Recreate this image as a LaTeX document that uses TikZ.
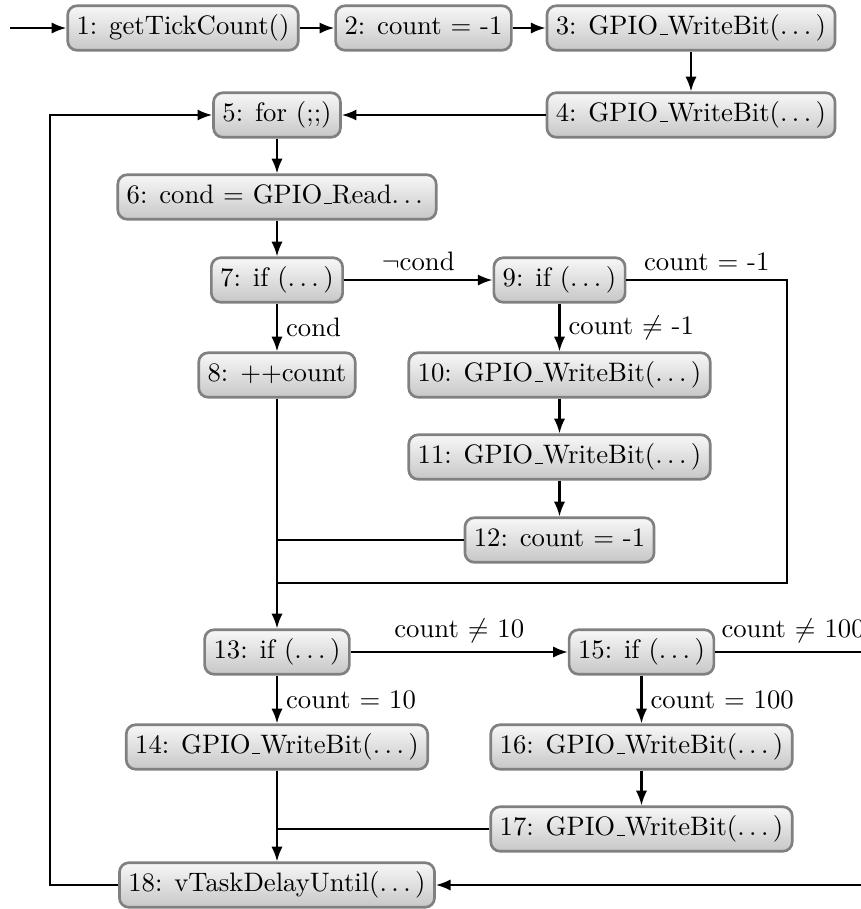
\documentclass[tikz,border=0pt]{standalone}
\usetikzlibrary{arrows.meta}
\newcommand{\mydots}{.\kern1.67pt.\kern1.67pt.\kern1.67pt}
\newcommand{\myus}{\leavevmode\kern.06em\vbox{\hrule width.3em}}
\begin{document}
\begin{tikzpicture}[x=0.3745pt,y=-0.3745pt,
  blk/.style={draw=black!50, line width=1pt, rounded corners=3.5pt,
    top color=black!3, bottom color=black!22, inner sep=3.33pt,
    text height=7.5pt, text depth=2.5pt},
  conn/.style={line width=0.8pt, draw=black},
  arr/.style={conn, -{Latex[length=5.5pt,width=4.2pt]}},
  lbl/.style={inner sep=3pt}]
\useasboundingbox (0,0) rectangle (861,909);
\clip (0,0) rectangle (861,909);

% nodes
\node[blk] (n1)  at (183,28)   {1: getTickCount()};
\node[blk] (n2)  at (423.5,28) {2: count $=$ -1};
\node[blk] (n3)  at (691,28)   {3: GPIO\myus WriteBit(\mydots)};
\node[blk] (n4)  at (691,115)  {4: GPIO\myus WriteBit(\mydots)};
\node[blk] (n5)  at (277,115)  {5: for (;;)};
\node[blk] (n6)  at (277,197)  {6: cond $=$ GPIO\myus Read\mydots};
\node[blk] (n7)  at (277,280)  {7: if (\mydots)};
\node[blk] (n8)  at (277,375)  {8: ++count};
\node[blk] (n9)  at (559.5,280) {9: if (\mydots)};
\node[blk] (n10) at (559.5,375) {10: GPIO\myus WriteBit(\mydots)};
\node[blk] (n11) at (559.5,457) {11: GPIO\myus WriteBit(\mydots)};
\node[blk] (n12) at (559.5,540) {12: count $=$ -1};
\node[blk] (n13) at (277,652)  {13: if (\mydots)};
\node[blk] (n14) at (277,747)  {14: GPIO\myus WriteBit(\mydots)};
\node[blk] (n15) at (641.5,652) {15: if (\mydots)};
\node[blk] (n16) at (641.5,747) {16: GPIO\myus WriteBit(\mydots)};
\node[blk] (n17) at (641.5,829) {17: GPIO\myus WriteBit(\mydots)};
\node[blk] (n18) at (277,885)  {18: vTaskDelayUntil(\mydots)};

% helper coordinates
\coordinate (start) at (10,28);
\coordinate (r9a) at (787,280);
\coordinate (r9b) at (787,583);
\coordinate (r15a) at (871,652);
\coordinate (r15b) at (871,885);
\coordinate (l18a) at (50,885);
\coordinate (l18b) at (50,115);

% connectors
\draw[arr] (start) -- (n1);
\draw[arr] (n1) -- (n2);
\draw[arr] (n2) -- (n3);
\draw[arr] (n3) -- (n4);
\draw[arr] (n4) -- (n5);
\draw[arr] (n5) -- (n6);
\draw[arr] (n6) -- (n7);
\draw[arr] (n7) -- node[lbl,above] {$\neg$cond} (n9);
\draw[arr] (n7) -- node[lbl,right] {cond} (n8);
\draw[arr] (n9) -- node[lbl,right] {count $\neq$ -1} (n10);
\draw[arr] (n10) -- (n11);
\draw[arr] (n11) -- (n12);
\draw[conn] (n9.east) -- node[lbl,above] {count $=$ -1} (r9a) -- (r9b) -- (r9b -| n8.south);
\draw[conn] (n12.west) -- (n12.west -| n8.south);
\draw[arr] (n8) -- (n13);
\draw[arr] (n13) -- node[lbl,above] {count $\neq$ 10} (n15);
\draw[arr] (n13) -- node[lbl,right] {count $=$ 10} (n14);
\draw[arr] (n15) -- node[lbl,right] {count $=$ 100} (n16);
\draw[arr] (n16) -- (n17);
\draw[conn] (n17.west) -- (n17.west -| n14.south);
\draw[arr] (n14) -- (n18);
\draw[arr] (n15.east) -- node[lbl,above] {count $\neq$ 100} (r15a) -- (r15b) -- (n18.east);
\draw[arr] (n18.west) -- (l18a) -- (l18b) -- (n5.west);
\end{tikzpicture}
\end{document}
